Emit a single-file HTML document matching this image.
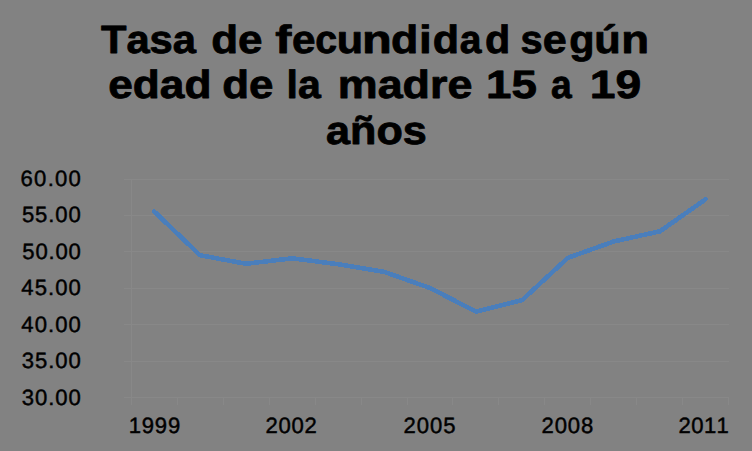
<!DOCTYPE html>
<html><head><meta charset="utf-8">
<style>
html,body{margin:0;padding:0;background:#828282;}
body{width:752px;height:451px;overflow:hidden;}
svg{display:block}
text{font-family:"Liberation Sans",sans-serif;fill:#000;font-kerning:none;text-rendering:geometricPrecision}
</style></head><body>
<svg width="752" height="451" viewBox="0 0 752 451">
<rect width="752" height="451" fill="#828282"/>
<g stroke="#888888" stroke-width="1" fill="none" shape-rendering="crispEdges">
<path d="M124 179.5H729M124 215.5H729M124 251.5H729M124 288.5H729M124 324.5H729M124 361.5H729M124 397.5H729"/>
<path d="M131.5 179V404.5"/>
<path d="M177.5 397V404.5M223.5 397V404.5M269.5 397V404.5M315.5 397V404.5M361.5 397V404.5M407.5 397V404.5M452.5 397V404.5M498.5 397V404.5M544.5 397V404.5M590.5 397V404.5M636.5 397V404.5M682.5 397V404.5M728.5 397V404.5"/>
</g>
<polyline fill="none" stroke="#4a7ebb" stroke-width="4.6" stroke-linejoin="round" stroke-linecap="round" shape-rendering="crispEdges" points="154,211.3 200,255.2 246,263.8 292,258.3 338,264.2 384,271.8 430,288 476,311.6 522,300.2 568,257.8 614,241.4 660,231.3 705.4,199.4"/>
<g stroke="#000" stroke-width="0.8" stroke-linejoin="round">
<text transform="translate(100.93,53.40) scale(1.0552,1.0000)" font-size="39.5" font-weight="bold">Tasa</text>
<text transform="translate(211.20,53.40) scale(1.1130,1.0000)" font-size="39.5" font-weight="bold">de</text>
<text transform="translate(275.37,53.40) scale(1.2265,1.0000)" font-size="39.5" font-weight="bold">f</text>
<text transform="translate(292.05,53.40) scale(1.0695,1.0000)" font-size="39.5" font-weight="bold">e</text>
<text transform="translate(315.36,53.40) scale(0.9965,1.0000)" font-size="39.5" font-weight="bold">c</text>
<text transform="translate(336.73,53.40) scale(1.0904,1.0000)" font-size="39.5" font-weight="bold">u</text>
<text transform="translate(361.89,53.40) scale(1.2320,1.0000)" font-size="39.5" font-weight="bold">n</text>
<text transform="translate(391.07,53.40) scale(1.1304,1.0000)" font-size="39.5" font-weight="bold">d</text>
<text transform="translate(419.09,53.40) scale(1.1624,1.0000)" font-size="39.5" font-weight="bold">i</text>
<text transform="translate(432.63,53.40) scale(1.0902,1.0000)" font-size="39.5" font-weight="bold">d</text>
<text transform="translate(459.86,53.40) scale(0.9876,1.0000)" font-size="39.5" font-weight="bold">a</text>
<text transform="translate(485.11,53.40) scale(1.0450,1.0000)" font-size="39.5" font-weight="bold">d</text>
<text transform="translate(520.60,53.40) scale(1.0074,1.0000)" font-size="39.5" font-weight="bold">s</text>
<text transform="translate(542.72,53.40) scale(1.0904,1.0000)" font-size="39.5" font-weight="bold">e</text>
<text transform="translate(569.30,53.40) scale(1.0470,1.0000)" font-size="39.5" font-weight="bold">g</text>
<text transform="translate(594.22,53.40) scale(1.0957,1.0000)" font-size="39.5" font-weight="bold">ú</text>
<text transform="translate(621.20,53.40) scale(1.1533,1.0000)" font-size="39.5" font-weight="bold">n</text>
<text transform="translate(108.27,98.10) scale(1.1187,1.0000)" font-size="39.5" font-weight="bold">edad</text>
<text transform="translate(222.20,98.10) scale(1.1107,1.0000)" font-size="39.5" font-weight="bold">de</text>
<text transform="translate(286.54,98.10) scale(1.0383,1.0000)" font-size="39.5" font-weight="bold">la</text>
<text transform="translate(337.74,98.10) scale(1.1361,1.0000)" font-size="39.5" font-weight="bold">madre</text>
<text transform="translate(486.02,98.10) scale(1.1574,1.0000)" font-size="39.5" font-weight="bold">15</text>
<text transform="translate(551.01,98.10) scale(0.9401,1.0000)" font-size="39.5" font-weight="bold">a</text>
<text transform="translate(589.69,98.10) scale(1.1705,1.0000)" font-size="39.5" font-weight="bold">19</text>
<text transform="translate(326.04,144.20) scale(1.0927,1.0000)" font-size="39.5" font-weight="bold">años</text>
</g>
<g stroke="#000" stroke-width="0.45" stroke-linejoin="round">
<text x="20.60" y="185.80" font-size="22.1" letter-spacing="1.233">60.00</text>
<text x="21.94" y="222.30" font-size="22.1" letter-spacing="0.899">55.00</text>
<text x="22.34" y="258.80" font-size="22.1" letter-spacing="0.799">50.00</text>
<text x="21.32" y="295.30" font-size="22.1" letter-spacing="1.054">45.00</text>
<text x="21.32" y="331.70" font-size="22.1" letter-spacing="1.054">40.00</text>
<text x="21.78" y="368.00" font-size="22.1" letter-spacing="0.938">35.00</text>
<text x="21.78" y="404.50" font-size="22.1" letter-spacing="0.938">30.00</text>
<text x="128.79" y="432.70" font-size="22.1" letter-spacing="0.755">1999</text>
<text x="265.61" y="432.70" font-size="22.1" letter-spacing="0.703">2002</text>
<text x="403.51" y="432.70" font-size="22.1" letter-spacing="0.925">2005</text>
<text x="541.61" y="432.70" font-size="22.1" letter-spacing="0.819">2008</text>
<text x="678.61" y="432.70" font-size="22.1" letter-spacing="0.359">2011</text>
</g>
</svg>
</body></html>
